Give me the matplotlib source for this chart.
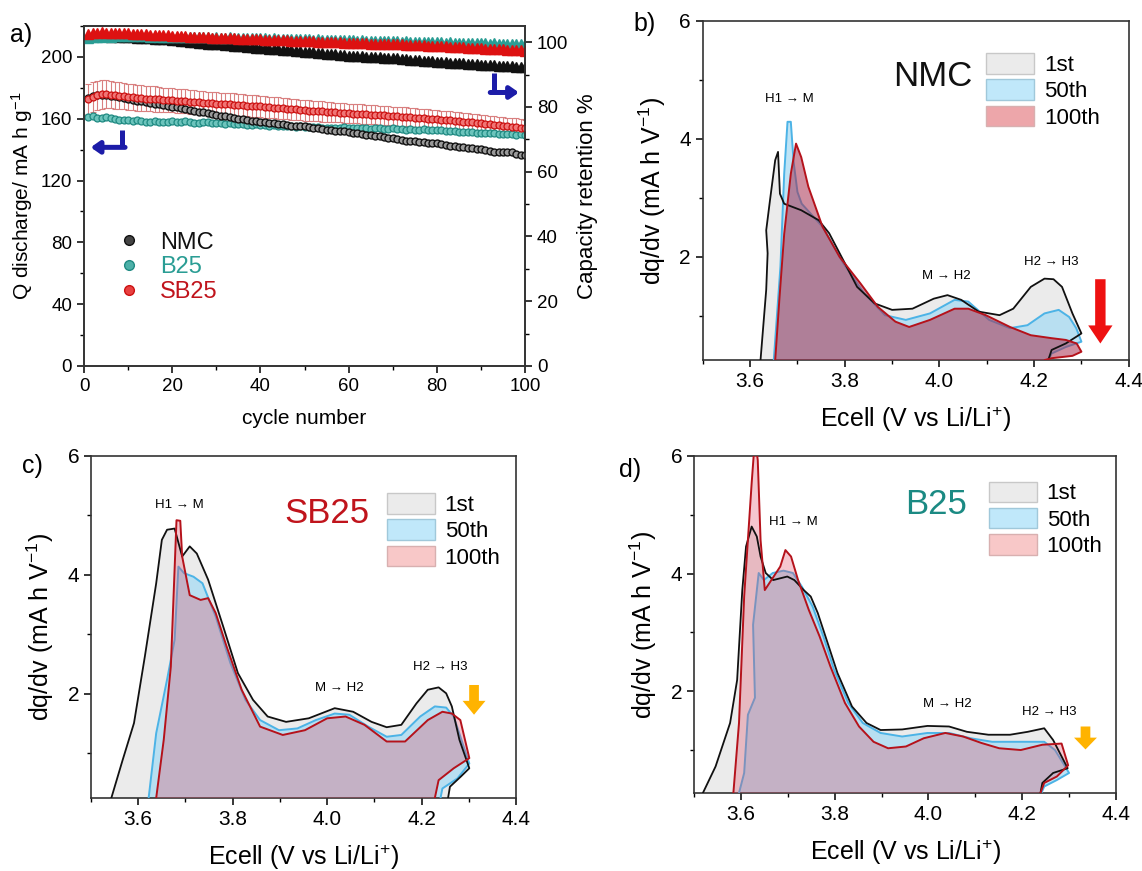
import matplotlib
matplotlib.use("Agg")
import matplotlib.pyplot as plt
from matplotlib.patches import Patch
from matplotlib.lines import Line2D
from matplotlib.ticker import MultipleLocator

plt.rcParams["font.family"] = ["Liberation Sans", "DejaVu Sans"]
plt.rcParams["mathtext.fontset"] = "custom"
plt.rcParams["mathtext.rm"] = "Liberation Sans"
plt.rcParams["mathtext.it"] = "Liberation Sans:italic"

# ---------------- panel a: cycling data ----------------
cycles = list(range(1, 101))

nmc_capacity = [
    173.5, 174.6, 175.2, 175.6, 175.3, 174.8, 174.9, 173.9, 173.4, 172.6,
    172.3, 171.6, 171.2, 170.9, 170.1, 169.8, 169.5, 168.9, 168.4, 167.8,
    167.5, 166.8, 166.4, 165.9, 165.2, 164.6, 164.1, 163.7, 163.0, 162.5,
    162.0, 161.6, 161.0, 160.6, 160.1, 159.7, 159.4, 158.8, 158.4, 158.0,
    157.8, 157.2, 157.0, 156.6, 156.3, 156.0, 155.6, 155.4, 155.0, 155.1,
    154.5, 154.1, 153.9, 153.3, 153.0, 152.9, 152.4, 152.2, 151.9, 151.7,
    151.1, 150.6, 150.4, 149.8, 149.3, 149.0, 148.6, 148.0, 147.7, 147.4,
    146.8, 146.1, 145.7, 145.6, 145.5, 145.2, 144.9, 144.5, 144.3, 144.1,
    143.6, 143.0, 142.5, 142.2, 141.9, 141.5, 141.1, 140.8, 140.4, 140.2,
    139.6, 139.1, 138.7, 138.6, 138.5, 138.7, 138.3, 137.4, 136.8, 136.4,
]
b25_capacity = [
    161.0, 161.6, 160.8, 160.2, 160.9, 160.4, 159.7, 159.2, 159.5, 158.9,
    158.6, 159.1, 158.5, 158.2, 158.0, 158.4, 158.2, 157.8, 158.1, 158.3,
    157.9, 158.1, 158.4, 158.0, 157.3, 157.2, 157.6, 157.8, 157.4, 157.2,
    157.0, 156.7, 157.1, 156.6, 156.3, 156.5, 156.2, 156.0, 156.3, 156.1,
    155.8, 155.6, 155.9, 155.5, 155.2, 155.4, 155.0, 154.8, 155.1, 154.7,
    154.5, 154.8, 154.4, 154.1, 154.3, 154.0, 153.8, 154.1, 154.4, 154.0,
    153.7, 153.9, 154.1, 153.8, 153.5, 153.7, 154.0, 153.6, 153.4, 153.8,
    153.5, 153.2, 152.9, 153.1, 152.8, 153.0, 153.2, 152.9, 152.7, 152.9,
    152.5, 152.2, 151.9, 152.1, 151.7, 151.4, 151.6, 151.2, 151.0, 151.1,
    150.8, 150.5, 150.7, 150.4, 150.1, 150.3, 150.0, 149.8, 150.0, 149.7,
]
sb25_capacity = [
    172.8, 174.0, 175.1, 175.8, 176.0, 175.6, 175.2, 174.9, 174.6, 174.2,
    173.9, 173.7, 173.4, 173.1, 172.9, 172.7, 172.5, 172.3, 172.2, 172.0,
    171.7, 171.5, 171.3, 171.0, 170.8, 170.6, 170.4, 170.2, 170.0, 169.8,
    169.6, 169.5, 169.3, 169.1, 168.9, 168.7, 168.5, 168.4, 168.2, 168.0,
    167.7, 167.5, 167.2, 167.0, 166.7, 166.5, 166.2, 166.0, 165.8, 165.5,
    165.3, 165.1, 164.9, 164.7, 164.5, 164.3, 164.1, 163.9, 163.7, 163.5,
    163.3, 163.2, 163.0, 162.8, 162.7, 162.5, 162.3, 162.2, 162.0, 161.8,
    161.6, 161.4, 161.2, 161.0, 160.8, 160.6, 160.4, 160.1, 159.9, 159.6,
    159.4, 159.1, 158.9, 158.6, 158.4, 158.1, 157.8, 157.6, 157.3, 157.0,
    156.7, 156.4, 156.1, 155.8, 155.5, 155.2, 154.9, 154.6, 154.2, 153.8,
]
sb25_error = [
    9.5, 9.8, 9.6, 9.2, 9.0, 8.8, 8.9, 8.6, 8.5, 8.4,
    8.3, 8.4, 8.2, 8.1, 8.0, 8.2, 8.0, 7.9, 7.8, 7.9,
    7.8, 7.7, 7.8, 7.6, 7.7, 7.5, 7.6, 7.4, 7.5, 7.4,
    7.3, 7.4, 7.2, 7.3, 7.1, 7.2, 7.0, 7.1, 7.0, 6.9,
    7.0, 6.9, 6.8, 6.9, 6.8, 6.7, 6.8, 6.7, 6.6, 6.7,
    6.6, 6.5, 6.6, 6.5, 6.4, 6.5, 6.4, 6.3, 6.4, 6.3,
    6.3, 6.2, 6.3, 6.2, 6.1, 6.2, 6.1, 6.2, 6.1, 6.0,
    6.1, 6.0, 6.1, 6.0, 5.9, 6.0, 5.9, 6.0, 5.9, 5.8,
    5.9, 5.8, 5.9, 5.8, 5.7, 5.8, 5.7, 5.8, 5.7, 5.6,
    5.7, 5.6, 5.7, 5.6, 5.5, 5.6, 5.5, 5.6, 5.5, 5.4,
]

nmc_retention = [
    101.9, 102.1, 102.0, 101.8, 101.9, 101.7, 101.8, 101.6, 101.7, 101.5,
    101.5, 101.4, 101.4, 101.2, 101.3, 101.1, 101.0, 101.1, 100.9, 100.8,
    100.7, 100.5, 100.4, 100.2, 100.1, 99.9, 99.8, 99.6, 99.5, 99.4,
    99.3, 99.1, 99.0, 98.9, 98.8, 98.7, 98.5, 98.4, 98.3, 98.2,
    98.1, 98.0, 97.9, 97.8, 97.6, 97.6, 97.5, 97.3, 97.2, 97.1,
    97.0, 96.9, 96.8, 96.6, 96.5, 96.4, 96.3, 96.2, 96.0, 95.9,
    95.8, 95.7, 95.7, 95.5, 95.4, 95.4, 95.3, 95.2, 95.1, 95.0,
    95.0, 94.9, 94.8, 94.6, 94.5, 94.4, 94.3, 94.2, 94.1, 94.0,
    93.9, 93.8, 93.7, 93.6, 93.5, 93.5, 93.4, 93.3, 93.2, 93.1,
    93.0, 92.9, 92.9, 92.8, 92.7, 92.6, 92.6, 92.5, 92.4, 92.3,
]
b25_retention = [
    101.4, 101.5, 101.7, 101.6, 101.8, 101.7, 101.9, 101.8, 101.8, 101.9,
    101.8, 101.9, 101.8, 101.8, 101.7, 101.8, 101.7, 101.7, 101.6, 101.7,
    101.6, 101.6, 101.7, 101.5, 101.6, 101.5, 101.5, 101.6, 101.4, 101.5,
    101.4, 101.4, 101.5, 101.3, 101.4, 101.3, 101.3, 101.2, 101.3, 101.2,
    101.2, 101.1, 101.2, 101.0, 101.1, 101.0, 101.0, 100.9, 101.0, 100.9,
    100.9, 100.8, 100.9, 100.7, 100.8, 100.7, 100.7, 100.6, 100.7, 100.6,
    100.6, 100.5, 100.6, 100.4, 100.5, 100.4, 100.4, 100.3, 100.4, 100.3,
    100.3, 100.2, 100.3, 100.1, 100.2, 100.1, 100.1, 100.0, 100.1, 100.0,
    100.0, 99.9, 100.0, 99.8, 99.9, 99.8, 99.8, 99.7, 99.8, 99.7,
    99.7, 99.6, 99.7, 99.5, 99.6, 99.5, 99.5, 99.4, 99.5, 99.4,
]
sb25_retention = [
    102.6, 102.9, 103.0, 103.1, 102.9, 103.0, 102.8, 102.9, 102.7, 102.7,
    102.6, 102.5, 102.5, 102.4, 102.3, 102.3, 102.2, 102.1, 102.1, 102.0,
    101.9, 101.9, 101.8, 101.7, 101.7, 101.6, 101.5, 101.5, 101.4, 101.4,
    101.3, 101.3, 101.2, 101.2, 101.1, 101.1, 101.0, 101.0, 100.9, 100.9,
    100.8, 100.8, 100.7, 100.7, 100.6, 100.6, 100.5, 100.5, 100.4, 100.4,
    100.3, 100.3, 100.2, 100.2, 100.1, 100.1, 100.0, 100.0, 99.9, 99.9,
    99.8, 99.8, 99.7, 99.7, 99.6, 99.6, 99.5, 99.5, 99.4, 99.4,
    99.3, 99.3, 99.2, 99.2, 99.1, 99.0, 99.0, 98.9, 98.9, 98.8,
    98.7, 98.7, 98.6, 98.5, 98.5, 98.4, 98.3, 98.3, 98.2, 98.1,
    98.0, 98.0, 97.9, 97.8, 97.8, 97.7, 97.6, 97.5, 97.5, 97.4,
]

sample_names = ["NMC", "B25", "SB25"]
cycle_labels = ["1st", "50th", "100th"]

# ---------------- panels b-d: dq/dV loops (voltage, dq/dv) ----------------
nmc_1st_v = [3.622, 3.634, 3.637, 3.634, 3.642, 3.653, 3.659, 3.663, 3.672, 3.708,
             3.745, 3.767, 3.797, 3.826, 3.863, 3.900, 3.943, 3.988, 4.017, 4.046,
             4.083, 4.127, 4.156, 4.193, 4.222, 4.241, 4.259, 4.281, 4.300, 4.267,
             4.237, 4.230]
nmc_1st_dq = [0.25, 1.44, 2.06, 2.45, 2.96, 3.64, 3.78, 3.07, 2.90, 2.79,
              2.62, 2.40, 1.94, 1.49, 1.21, 1.10, 1.12, 1.29, 1.35, 1.27,
              1.07, 1.01, 1.12, 1.49, 1.63, 1.62, 1.49, 1.04, 0.70, 0.53,
              0.42, 0.25]
nmc_50th_v = [3.650, 3.664, 3.672, 3.679, 3.686, 3.692, 3.700, 3.709, 3.753, 3.797,
              3.841, 3.885, 3.929, 3.980, 4.032, 4.061, 4.105, 4.149, 4.186, 4.222,
              4.252, 4.274, 4.289, 4.300, 4.267, 4.237, 4.230]
nmc_50th_dq = [0.25, 1.83, 3.41, 4.29, 4.29, 3.60, 3.10, 2.90, 2.51, 1.89,
               1.38, 1.01, 0.93, 1.04, 1.27, 1.24, 0.93, 0.79, 0.84, 1.04,
               1.10, 0.98, 0.79, 0.56, 0.47, 0.36, 0.25]
nmc_100th_v = [3.653, 3.662, 3.672, 3.686, 3.697, 3.708, 3.723, 3.753, 3.789, 3.833,
               3.870, 3.907, 3.936, 3.980, 4.032, 4.061, 4.098, 4.149, 4.193, 4.237,
               4.267, 4.290, 4.300, 4.281, 4.237, 4.223]
nmc_100th_dq = [0.25, 1.30, 2.39, 3.41, 3.92, 3.69, 3.19, 2.51, 2.00, 1.55,
                1.15, 0.90, 0.81, 0.93, 1.12, 1.12, 1.01, 0.81, 0.67, 0.62,
                0.59, 0.53, 0.39, 0.32, 0.28, 0.25]

sb25_1st_v = [3.543, 3.567, 3.591, 3.614, 3.638, 3.650, 3.661, 3.677, 3.693, 3.709,
              3.724, 3.748, 3.780, 3.811, 3.843, 3.874, 3.913, 3.961, 4.016, 4.055,
              4.094, 4.126, 4.157, 4.189, 4.213, 4.236, 4.252, 4.264, 4.280, 4.301,
              4.283, 4.260, 4.256]
sb25_1st_dq = [0.25, 0.89, 1.51, 2.63, 3.86, 4.59, 4.76, 4.78, 4.31, 4.48,
               4.36, 3.92, 3.13, 2.35, 1.90, 1.62, 1.53, 1.59, 1.76, 1.70,
               1.53, 1.44, 1.48, 1.84, 2.07, 2.11, 2.01, 1.79, 1.23, 0.75,
               0.61, 0.44, 0.25]
sb25_50th_v = [3.622, 3.638, 3.661, 3.677, 3.685, 3.697, 3.717, 3.736, 3.764, 3.795,
               3.827, 3.858, 3.898, 3.937, 3.976, 4.016, 4.047, 4.087, 4.126, 4.157,
               4.197, 4.228, 4.252, 4.268, 4.301, 4.276, 4.244, 4.240]
sb25_50th_dq = [0.25, 1.34, 2.24, 2.91, 4.14, 4.03, 3.97, 3.86, 3.30, 2.52,
                1.90, 1.56, 1.39, 1.42, 1.56, 1.67, 1.65, 1.45, 1.28, 1.31,
                1.62, 1.79, 1.77, 1.62, 0.83, 0.58, 0.41, 0.25]
sb25_100th_v = [3.638, 3.654, 3.669, 3.681, 3.689, 3.693, 3.709, 3.732, 3.748, 3.764,
                3.787, 3.819, 3.858, 3.906, 3.953, 4.000, 4.039, 4.079, 4.126, 4.165,
                4.213, 4.244, 4.264, 4.282, 4.301, 4.268, 4.236, 4.228]
sb25_100th_dq = [0.25, 1.23, 2.46, 4.92, 4.91, 4.31, 3.66, 3.58, 3.61, 3.36,
                 2.80, 2.07, 1.45, 1.31, 1.39, 1.59, 1.62, 1.48, 1.20, 1.20,
                 1.56, 1.70, 1.67, 1.56, 0.92, 0.75, 0.55, 0.25]

b25_1st_v = [3.519, 3.546, 3.577, 3.592, 3.603, 3.611, 3.623, 3.634, 3.642, 3.653,
             3.669, 3.684, 3.699, 3.714, 3.734, 3.749, 3.764, 3.783, 3.806, 3.837,
             3.868, 3.898, 3.944, 3.998, 4.044, 4.082, 4.128, 4.174, 4.212, 4.247,
             4.266, 4.297, 4.266, 4.243, 4.239]
b25_1st_dq = [0.27, 0.72, 1.46, 2.19, 3.72, 4.46, 4.80, 4.63, 4.29, 4.01,
              3.89, 3.92, 3.95, 3.89, 3.72, 3.61, 3.33, 2.87, 2.31, 1.74,
              1.46, 1.34, 1.35, 1.41, 1.40, 1.31, 1.26, 1.26, 1.31, 1.37,
              1.17, 0.69, 0.61, 0.44, 0.27]
b25_50th_v = [3.596, 3.607, 3.615, 3.630, 3.626, 3.638, 3.649, 3.668, 3.691, 3.711,
              3.730, 3.753, 3.776, 3.799, 3.829, 3.860, 3.898, 3.944, 3.998, 4.044,
              4.090, 4.136, 4.182, 4.220, 4.247, 4.270, 4.300, 4.274, 4.247, 4.241]
b25_50th_dq = [0.27, 0.61, 1.60, 1.89, 3.13, 4.01, 3.89, 4.01, 4.05, 4.01,
               3.78, 3.44, 2.93, 2.36, 1.80, 1.46, 1.29, 1.23, 1.29, 1.29,
               1.20, 1.14, 1.14, 1.14, 1.14, 1.00, 0.61, 0.49, 0.38, 0.27]
b25_100th_v = [3.584, 3.596, 3.607, 3.623, 3.630, 3.636, 3.642, 3.651, 3.665, 3.684,
               3.695, 3.707, 3.722, 3.745, 3.768, 3.791, 3.822, 3.852, 3.883, 3.914,
               3.952, 3.990, 4.036, 4.074, 4.113, 4.151, 4.197, 4.243, 4.284, 4.298,
               4.274, 4.247, 4.239]
b25_100th_dq = [0.27, 1.46, 3.61, 5.54, 6.30, 5.93, 4.57, 3.72, 3.89, 4.12,
                4.40, 4.29, 3.89, 3.38, 2.93, 2.42, 1.80, 1.40, 1.14, 1.03,
                1.06, 1.20, 1.29, 1.23, 1.12, 1.03, 1.00, 1.09, 1.11, 0.74,
                0.55, 0.44, 0.27]

TEAL = "#2a9d94"
RED = "#d41a1a"
DARK_RED = "#c0141c"
BLUE_ARROW = "#1c1ca8"
ORANGE = "#ffb300"


fig = plt.figure(figsize=(11.42, 8.71), dpi=100)

# ================= panel a =================
ax = fig.add_axes([0.0736, 0.5798, 0.3862, 0.3903])
ax2 = ax.twinx()

ax.errorbar(cycles, sb25_capacity, yerr=sb25_error, fmt="none", ecolor="#d98080",
            elinewidth=0.8, capsize=2.5, capthick=0.8, zorder=1)
ax.plot(cycles, b25_capacity, "o", ms=5.0, mfc="#6cc4bc", mec="#1f8a82", mew=0.9, zorder=2)
ax.plot(cycles, nmc_capacity, "o", ms=5.0, mfc="#9a9a9a", mec="#111111", mew=1.0, zorder=3)
ax.plot(cycles, sb25_capacity, "o", ms=5.0, mfc="#f07575", mec="#cc1111", mew=0.9, zorder=4)

ax2.plot(cycles, nmc_retention, "^", ms=6.5, color="#111111", mec="#111111", ls="none")
ax2.plot(cycles, b25_retention, "^", ms=6.5, color=TEAL, mec=TEAL, ls="none")
ax2.plot(cycles, sb25_retention, "^", ms=6.5, color="#dd1111", mec="#dd1111", ls="none")

ax.set_xlim(0, 100)
ax.set_ylim(0, 220)
ax2.set_ylim(0, 105)
ax.xaxis.set_major_locator(MultipleLocator(20))
ax.xaxis.set_minor_locator(MultipleLocator(10))
ax.yaxis.set_major_locator(MultipleLocator(40))
ax.yaxis.set_minor_locator(MultipleLocator(20))
ax2.yaxis.set_major_locator(MultipleLocator(20))
ax2.yaxis.set_minor_locator(MultipleLocator(10))
for a in (ax, ax2):
    a.tick_params(which="major", direction="out", length=5, width=1.1, labelsize=13.5)
    a.tick_params(which="minor", direction="out", length=3, width=1.0)
    for s in a.spines.values():
        s.set_linewidth(1.2)
        s.set_color("#333333")

ax.set_xlabel("cycle number", fontsize=15, labelpad=10)
ax.set_ylabel("Q discharge/ mA h g$^{-1}$", fontsize=15, labelpad=4)
ax2.set_ylabel("Capacity retention %", fontsize=16, labelpad=6)

# blue L-shaped arrows pointing to each axis
ax.plot([8.5, 8.5], [153, 141.5], color=BLUE_ARROW, lw=3.6, solid_capstyle="butt", zorder=6)
ax.annotate("", xy=(1.5, 141.5), xytext=(9.3, 141.5),
            arrowprops=dict(arrowstyle="-|>,head_width=0.35,head_length=0.5",
                            color=BLUE_ARROW, lw=3.6, shrinkA=0, shrinkB=0), zorder=6)
ax.plot([92.9, 92.9], [189.5, 177], color=BLUE_ARROW, lw=3.6, solid_capstyle="butt", zorder=6)
ax.annotate("", xy=(98.6, 177), xytext=(92.1, 177),
            arrowprops=dict(arrowstyle="-|>,head_width=0.35,head_length=0.5",
                            color=BLUE_ARROW, lw=3.6, shrinkA=0, shrinkB=0), zorder=6)

leg_handles = [
    Line2D([], [], marker="o", ls="none", ms=7, mfc="#444444", mec="#111111"),
    Line2D([], [], marker="o", ls="none", ms=7, mfc="#4db0a8", mec="#1f8a82"),
    Line2D([], [], marker="o", ls="none", ms=7, mfc="#e84040", mec="#cc1111"),
]
ax.legend(leg_handles, sample_names, loc="center left", bbox_to_anchor=(0.076, 0.29),
          frameon=False, fontsize=17, handlelength=1.0, handletextpad=0.8,
          labelspacing=0.12, borderpad=0, borderaxespad=0,
          labelcolor=["#111111", TEAL, DARK_RED])


# ================= panels b-d =================
def dqdv_panel(rect, loops, red_fill, red_alpha, legend_red, title, title_color,
               notes, arrow, legend_anchor, ybottom):
    axp = fig.add_axes(rect)
    (v1, d1), (v50, d50), (v100, d100) = loops
    axp.fill(v1, d1, color="#ebebeb", lw=0, zorder=1)
    axp.fill(v50, d50, color="#a8dcf4", alpha=0.75, lw=0, zorder=2)
    axp.plot(v50, d50, color="#4cb3e6", lw=1.4, zorder=3)
    axp.fill(v100, d100, color=red_fill, alpha=red_alpha, lw=0, zorder=4)
    axp.plot(v1, d1, color="#111111", lw=1.3, zorder=5)
    axp.plot(v100, d100, color="#b5121b", lw=1.4, zorder=6)

    axp.set_xlim(3.5, 4.4)
    axp.set_ylim(ybottom, 6)
    axp.xaxis.set_major_locator(MultipleLocator(0.2))
    axp.xaxis.set_minor_locator(MultipleLocator(0.1))
    axp.yaxis.set_major_locator(MultipleLocator(2))
    axp.yaxis.set_minor_locator(MultipleLocator(1))
    axp.set_xticks([3.6, 3.8, 4.0, 4.2, 4.4])
    axp.set_xticklabels(["3.6", "3.8", "4.0", "4.2", "4.4"])
    axp.tick_params(which="major", direction="out", length=5, width=1.1, labelsize=15)
    axp.tick_params(which="minor", direction="out", length=3, width=1.0)
    for s in axp.spines.values():
        s.set_linewidth(1.2)
        s.set_color("#333333")
    axp.set_xlabel("Ecell (V vs Li/Li$^{+}$)", fontsize=18, labelpad=10)
    axp.set_ylabel("dq/dv (mA h V$^{-1}$)", fontsize=18, labelpad=8)

    for (tx, ty, txt) in notes:
        axp.text(tx, ty, txt, fontsize=9.5, ha="center", va="center", zorder=7)
    axp.text(title[1], title[2], title[0], fontsize=25, color=title_color,
             ha="center", va="center", zorder=7)

    ax_x, y_top, y_tip, color, hw, hl, tw = arrow
    axp.annotate("", xy=(ax_x, y_tip), xytext=(ax_x, y_top),
                 arrowprops=dict(arrowstyle=f"simple,head_width={hw},head_length={hl},tail_width={tw}",
                                 fc=color, ec="none", shrinkA=0, shrinkB=0), zorder=8)

    handles = [Patch(fc="#ebebeb", ec="#c8c8c8", lw=1),
               Patch(fc="#c0e8fa", ec="#a0c8da", lw=1),
               Patch(fc=legend_red, ec="#d8b0b0", lw=1)]
    axp.legend(handles, cycle_labels, loc="upper left", bbox_to_anchor=legend_anchor,
               frameon=False, fontsize=16, handlelength=2.15, handleheight=1.05,
               labelspacing=0.15, handletextpad=0.45, borderpad=0, borderaxespad=0)
    return axp


arrow_txt = "\u2192"
dqdv_panel([0.6154, 0.5867, 0.3730, 0.3892],
           [(nmc_1st_v, nmc_1st_dq), (nmc_50th_v, nmc_50th_dq), (nmc_100th_v, nmc_100th_dq)],
           "#a83050", 0.55, "#eda6aa", ("NMC", 3.986, 5.06), "#111111",
           [(3.683, 4.67, f"H1 {arrow_txt} M"), (4.015, 1.67, f"M {arrow_txt} H2"),
            (4.237, 1.92, f"H2 {arrow_txt} H3")],
           (4.34, 1.62, 0.53, "#ee1111", 1.75, 1.3, 0.75), (0.666, 0.905), 0.25)

dqdv_panel([0.0797, 0.0838, 0.3722, 0.3927],
           [(sb25_1st_v, sb25_1st_dq), (sb25_50th_v, sb25_50th_dq), (sb25_100th_v, sb25_100th_dq)],
           "#e0506a", 0.32, "#f8c8c8", ("SB25", 4.0, 5.03), DARK_RED,
           [(3.687, 5.18, f"H1 {arrow_txt} M"), (4.026, 2.10, f"M {arrow_txt} H2"),
            (4.24, 2.46, f"H2 {arrow_txt} H3")],
           (4.311, 2.15, 1.65, ORANGE, 1.65, 1.0, 0.7), (0.696, 0.891), 0.25)

dqdv_panel([0.6077, 0.0896, 0.3695, 0.3869],
           [(b25_1st_v, b25_1st_dq), (b25_50th_v, b25_50th_dq), (b25_100th_v, b25_100th_dq)],
           "#e0506a", 0.32, "#f8c8c8", ("B25", 4.017, 5.17), "#1b8a83",
           [(3.712, 4.87, f"H1 {arrow_txt} M"), (4.04, 1.78, f"M {arrow_txt} H2"),
            (4.257, 1.65, f"H2 {arrow_txt} H3")],
           (4.335, 1.40, 1.01, ORANGE, 1.65, 0.85, 0.7), (0.699, 0.924), 0.27)

# panel letters
fig.text(21 / 1142, 1 - 35 / 871, "a)", fontsize=18, ha="center", va="center")
fig.text(645 / 1142, 1 - 24 / 871, "b)", fontsize=18, ha="center", va="center")
fig.text(32 / 1142, 1 - 466 / 871, "c)", fontsize=18, ha="center", va="center")
fig.text(630 / 1142, 1 - 470 / 871, "d)", fontsize=18, ha="center", va="center")

fig.savefig("out.png", dpi=100)
